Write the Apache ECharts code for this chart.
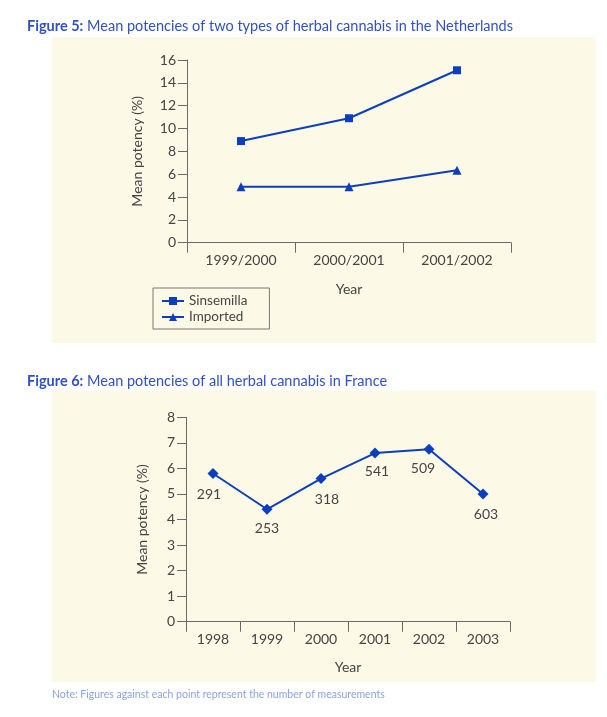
<!DOCTYPE html>
<html><head><meta charset="utf-8">
<script src="https://cdn.jsdelivr.net/npm/echarts@6/dist/echarts.min.js"></script>
<style>html,body{margin:0;padding:0;background:#fff}#c{width:607px;height:717px}</style>
</head><body><div id="c"></div>
<script>
// Figure 5 data
const nlCategories = ['1999/2000', '2000/2001', '2001/2002'];
const sinsemilla = [8.9, 10.9, 15.1];
const imported = [4.9, 4.9, 6.35];
const nlTicks = {min: 0, max: 16, interval: 2};
// Figure 6 data
const frCategories = ['1998', '1999', '2000', '2001', '2002', '2003'];
const frPotency = [5.8, 4.4, 5.6, 6.6, 6.75, 5.0];
const frCounts = [291, 253, 318, 541, 509, 603];
const frTicks = {min: 0, max: 8, interval: 1};

const FONT = 'Lato';
const BLUE = '#0b3fbe';
const TITLE_BLUE = '#3050c8';
const AX = '#6a6a6a';
const TXT = '#444';
const PANEL = '#fdf9e7';

const labelOffsets = [[-4, 0], [0, -1], [6, 0], [2, -2], [-6, -1], [3, 0]];

const chart = echarts.init(document.getElementById('c'), null, {renderer: 'canvas'});

function yAx(gi, t, gap) {
  return {
    type: 'value', gridIndex: gi, min: t.min, max: t.max, interval: t.interval,
    name: 'Mean potency (%)', nameLocation: 'middle', nameGap: gap,
    nameTextStyle: {fontFamily: FONT, fontSize: 14, color: TXT},
    axisLine: {show: true, lineStyle: {color: AX, width: 1}},
    axisTick: {show: true, length: 9, lineStyle: {color: AX}},
    axisLabel: {fontFamily: FONT, fontSize: 14, color: TXT, margin: 11},
    splitLine: {show: false}
  };
}
function xAx(gi, cats, gap) {
  return {
    type: 'category', gridIndex: gi, data: cats, boundaryGap: true,
    name: 'Year', nameLocation: 'middle', nameGap: gap,
    nameTextStyle: {fontFamily: FONT, fontSize: 14, color: TXT},
    axisLine: {show: true, lineStyle: {color: AX, width: 1}},
    axisTick: {show: true, length: 10, alignWithLabel: false, lineStyle: {color: AX}},
    axisLabel: {fontFamily: FONT, fontSize: 14, color: TXT, margin: 11},
    splitLine: {show: false}
  };
}

const option = {
  animation: false,
  backgroundColor: '#ffffff',
  graphic: [
    {type: 'rect', shape: {x: 52, y: 37, width: 544, height: 306}, style: {fill: PANEL}, z: -10},
    {type: 'rect', shape: {x: 52, y: 391, width: 544, height: 291}, style: {fill: PANEL}, z: -10},
    {type: 'text', left: 52, top: 689, style: {text: 'Note: Figures against each point represent the number of measurements', font: '10.5px Lato', fill: '#8aa3e3'}}
  ],
  title: [
    {left: 22, top: 14, text: '{b|Figure 5:} Mean potencies of two types of herbal cannabis in the Netherlands',
      textStyle: {fontFamily: FONT, fontSize: 14.5, fontWeight: 'normal', color: TITLE_BLUE,
        rich: {b: {fontFamily: FONT, fontSize: 14.5, fontWeight: 'bold', color: TITLE_BLUE}}}},
    {left: 22, top: 369, text: '{b|Figure 6:} Mean potencies of all herbal cannabis in France',
      textStyle: {fontFamily: FONT, fontSize: 14.5, fontWeight: 'normal', color: TITLE_BLUE,
        rich: {b: {fontFamily: FONT, fontSize: 14.5, fontWeight: 'bold', color: TITLE_BLUE}}}}
  ],
  legend: {
    show: true, orient: 'vertical', left: 153, top: 288,
    data: ['Sinsemilla', 'Imported'],
    borderColor: '#777', borderWidth: 1, borderRadius: 0,
    padding: [6, 22, 5, 8], itemGap: 2, itemWidth: 22, itemHeight: 10,
    textStyle: {fontFamily: FONT, fontSize: 13.5, color: TXT}
  },
  grid: [
    {left: 187, right: 96, top: 60, height: 182.7},
    {left: 186, right: 97, top: 417.3, height: 204.4}
  ],
  xAxis: [xAx(0, nlCategories, 40), xAx(1, frCategories, 39)],
  yAxis: [yAx(0, nlTicks, 43), yAx(1, frTicks, 37)],
  series: [
    {name: 'Sinsemilla', type: 'line', xAxisIndex: 0, yAxisIndex: 0, data: sinsemilla,
      symbol: 'rect', symbolSize: 8, lineStyle: {color: BLUE, width: 2}, itemStyle: {color: BLUE}},
    {name: 'Imported', type: 'line', xAxisIndex: 0, yAxisIndex: 0, data: imported,
      symbol: 'triangle', symbolSize: 9, lineStyle: {color: BLUE, width: 2}, itemStyle: {color: BLUE}},
    {name: 'France', type: 'line', xAxisIndex: 1, yAxisIndex: 1,
      data: frPotency.map((v, i) => ({value: v, label: {offset: labelOffsets[i]}})),
      symbol: 'diamond', symbolSize: 11, lineStyle: {color: BLUE, width: 2}, itemStyle: {color: BLUE},
      label: {show: true, position: 'bottom', distance: 8, fontFamily: FONT, fontSize: 14, color: TXT,
        formatter: p => String(frCounts[p.dataIndex])}}
  ]
};
chart.setOption(option);
</script>
</body></html>
